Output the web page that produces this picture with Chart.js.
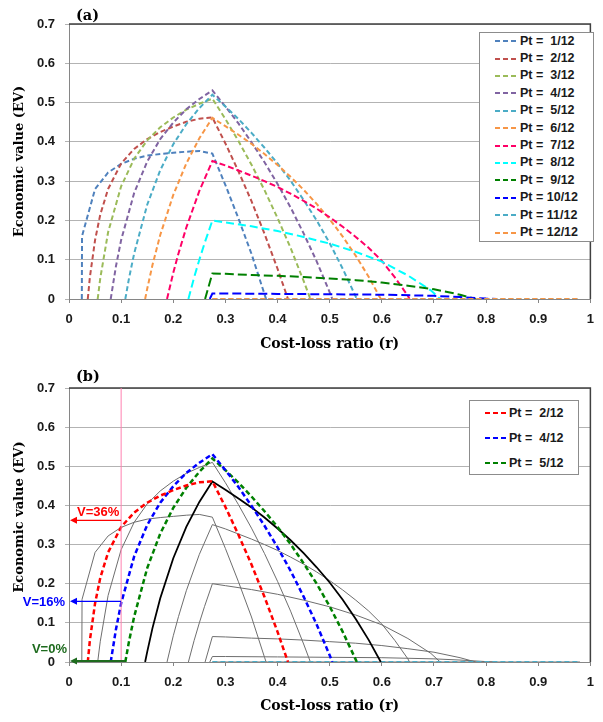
<!DOCTYPE html>
<html>
<head>
<meta charset="utf-8">
<script src="https://cdn.jsdelivr.net/npm/chart.js@4.4.0/dist/chart.umd.min.js"></script>
<style>
  body { margin: 0; background: #fff; }
  #wrap { position: relative; width: 603px; height: 722px; overflow: hidden; }
  .box { position: absolute; left: 0; width: 603px; }
  #boxA { top: 0; height: 360px; }
  #boxB { top: 360px; height: 362px; }
  .legend { position: absolute; background: #fff; border: 1px solid #8c8c8c;
    font: bold 12.5px "Liberation Sans", Arial, sans-serif; color: #1a1a1a; }
  .legend .row { position: absolute; left: 0; height: 14px; line-height: 14px; white-space: pre; }
  .legend .swatch { display: inline-block; height: 2px; vertical-align: middle; margin-right: 3px; }
</style>
</head>
<body>
<div id="wrap">
  <div class="box" id="boxA"><canvas id="chartA" width="603" height="360"></canvas></div>
  <div class="box" id="boxB"><canvas id="chartB" width="603" height="362"></canvas></div>
  <div class="legend" id="legendA" style="left:479px;top:32px;width:113px;height:208px;"></div>
  <div class="legend" id="legendB" style="left:469px;top:400px;width:108px;height:73px;"></div>
</div>
<script>
// threshold labels
const labels = ["Pt =  1/12", "Pt =  2/12", "Pt =  3/12", "Pt =  4/12", "Pt =  5/12", "Pt =  6/12",
  "Pt =  7/12", "Pt =  8/12", "Pt =  9/12", "Pt = 10/12", "Pt = 11/12", "Pt = 12/12"];

// cost-loss ratio (r) and economic value (EV)
const r1 = [0.0246, 0.025, 0.05, 0.075, 0.1, 0.125, 0.15, 0.175, 0.2, 0.225, 0.25, 0.275, 0.3, 0.325, 0.35, 0.375, 0.378];
const v1 = [0, 0.16, 0.28, 0.322, 0.344, 0.357, 0.365, 0.369, 0.372, 0.375, 0.377, 0.37, 0.29, 0.205, 0.115, 0.012, 0];
const r2 = [0.036, 0.04, 0.05, 0.06, 0.075, 0.1, 0.125, 0.15, 0.175, 0.2, 0.225, 0.25, 0.275, 0.3, 0.325, 0.35, 0.375, 0.4, 0.42];
const v2 = [0, 0.055, 0.15, 0.215, 0.28, 0.345, 0.382, 0.407, 0.425, 0.439, 0.451, 0.459, 0.462, 0.396, 0.325, 0.249, 0.166, 0.077, 0];
const r3 = [0.055, 0.06, 0.075, 0.1, 0.125, 0.15, 0.175, 0.2, 0.225, 0.25, 0.275, 0.3, 0.325, 0.35, 0.375, 0.4, 0.425, 0.45, 0.463];
const v3 = [0, 0.053, 0.17, 0.287, 0.357, 0.404, 0.437, 0.462, 0.482, 0.497, 0.51, 0.458, 0.402, 0.342, 0.277, 0.206, 0.13, 0.046, 0];
const r4 = [0.08, 0.09, 0.1, 0.125, 0.15, 0.175, 0.2, 0.225, 0.25, 0.275, 0.3, 0.325, 0.35, 0.375, 0.4, 0.425, 0.45, 0.475, 0.5, 0.505];
const v4 = [0, 0.083, 0.15, 0.27, 0.35, 0.407, 0.449, 0.483, 0.509, 0.531, 0.49, 0.447, 0.399, 0.348, 0.293, 0.233, 0.167, 0.096, 0.017, 0];
const r5 = [0.108, 0.115, 0.125, 0.15, 0.175, 0.2, 0.225, 0.25, 0.275, 0.3, 0.325, 0.35, 0.375, 0.4, 0.425, 0.45, 0.475, 0.5, 0.525, 0.55, 0.552];
const v5 = [0, 0.052, 0.116, 0.24, 0.328, 0.394, 0.445, 0.486, 0.52, 0.49, 0.458, 0.423, 0.385, 0.345, 0.301, 0.252, 0.2, 0.142, 0.077, 0.006, 0];
const r6 = [0.146, 0.15, 0.16, 0.175, 0.2, 0.225, 0.25, 0.275, 0.3, 0.325, 0.35, 0.375, 0.4, 0.425, 0.45, 0.475, 0.5, 0.525, 0.55, 0.575, 0.598];
const v6 = [0, 0.026, 0.086, 0.163, 0.265, 0.345, 0.409, 0.461, 0.44, 0.418, 0.395, 0.369, 0.341, 0.311, 0.278, 0.242, 0.203, 0.159, 0.11, 0.056, 0];
const r7 = [0.188, 0.2, 0.21, 0.225, 0.25, 0.275, 0.3, 0.325, 0.35, 0.375, 0.4, 0.425, 0.45, 0.475, 0.5, 0.525, 0.55, 0.575, 0.6, 0.625, 0.65, 0.653];
const v7 = [0, 0.067, 0.116, 0.182, 0.275, 0.351, 0.34, 0.327, 0.314, 0.3, 0.285, 0.268, 0.25, 0.23, 0.208, 0.184, 0.158, 0.13, 0.097, 0.055, 0.008, 0];
const r8 = [0.229, 0.24, 0.25, 0.26, 0.275, 0.3, 0.35, 0.4, 0.45, 0.5, 0.55, 0.6, 0.65, 0.694, 0.712];
const v8 = [0, 0.055, 0.1, 0.142, 0.2, 0.195, 0.185, 0.173, 0.158, 0.141, 0.12, 0.095, 0.06, 0.022, 0];
const r9 = [0.261, 0.275, 0.3, 0.35, 0.4, 0.45, 0.5, 0.55, 0.6, 0.65, 0.7, 0.75, 0.78];
const v9 = [0, 0.065, 0.064, 0.061, 0.059, 0.056, 0.052, 0.048, 0.042, 0.034, 0.025, 0.011, 0];
const r10 = [0.27, 0.275, 0.3, 0.4, 0.5, 0.6, 0.7, 0.75, 0.8, 0.82];
const v10 = [0, 0.014, 0.014, 0.013, 0.012, 0.011, 0.008, 0.005, 0.001, 0];
const r11 = [0.275, 0.98];
const v11 = [0, 0];
const r12 = [0.275, 0.98];
const v12 = [0, 0];

const curves = [[r1, v1], [r2, v2], [r3, v3], [r4, v4], [r5, v5], [r6, v6],
  [r7, v7], [r8, v8], [r9, v9], [r10, v10], [r11, v11], [r12, v12]];

// panel (b) markers: r = 0.1 and the values read at it
const markR = 0.1;
const markV = [0.362, 0.155, 0];
const markText = ["V=36%", "V=16%", "V=0%"];
const legendB = [1, 3, 4]; // Pt = 2/12, 4/12, 5/12

const colorsA = ["#4F81BD", "#C0504D", "#9BBB59", "#8064A2", "#4BACC6", "#F79646",
  "#FF0066", "#00FFFF", "#008000", "#0000FF", "#4BACC6", "#F79646"];
const dashA = [[5, 3], [5, 3], [5, 3], [5, 3], [5, 3], [5, 3],
  [6, 3], [8, 4], [9, 4], [9, 4], [5, 3], [5, 3]];

const tickFont = { family: '"Liberation Sans", Arial, sans-serif', size: 13, weight: 'bold' };
const titleFont = { family: '"DejaVu Serif", "Liberation Serif", serif', size: 14, weight: 'bold' };

const points = (i) => curves[i][0].map((x, k) => ({ x: x, y: curves[i][1][k] }));

const datasetsA = labels.map((lab, i) => ({
  label: lab,
  data: points(i),
  borderColor: colorsA[i],
  borderWidth: 2,
  borderDash: dashA[i],
  order: 12 - i,
}));

const datasetsB = labels.map((lab, i) => {
  let ds = { label: lab, data: points(i), borderColor: "#6E6E6E", borderWidth: 1, order: 3 };
  if (i === 1) ds = { ...ds, borderColor: "#FF0000", borderWidth: 2.5, borderDash: [5, 3], order: 0 };
  if (i === 3) ds = { ...ds, borderColor: "#0000FF", borderWidth: 2.5, borderDash: [5, 3], order: 0 };
  if (i === 4) ds = { ...ds, borderColor: "#008000", borderWidth: 2.5, borderDash: [5, 3], order: 0 };
  if (i === 5) ds = { ...ds, borderColor: "#000000", borderWidth: 1.8, order: 1 };
  if (i === 10) ds = { ...ds, borderColor: "#4BACC6", borderWidth: 2, borderDash: [5, 3], order: 2 };
  return ds;
});

const fmt = (v) => String(Math.round(v * 10) / 10);

// plot frame, panel letter and y-axis title
const framePlugin = {
  id: "frame",
  beforeDatasetsDraw(chart) {
    const { ctx, chartArea: a } = chart;
    ctx.save();
    ctx.strokeStyle = "#404040";
    ctx.lineWidth = 1.5;
    ctx.beginPath();
    ctx.moveTo(a.left, a.top);
    ctx.lineTo(a.right, a.top);
    ctx.lineTo(a.right, a.bottom);
    ctx.stroke();
    ctx.restore();
  },
  afterDraw(chart, args, opts) {
    const { ctx } = chart;
    ctx.save();
    ctx.font = 'bold 14.5px "DejaVu Serif", serif';
    ctx.fillStyle = "#000";
    ctx.textBaseline = "middle";
    ctx.fillText(opts.tag, 76, opts.tagY);

    ctx.font = 'bold 13px "DejaVu Serif", serif';
    ctx.textAlign = "center";
    ctx.translate(19.5, opts.yTitleY);
    ctx.rotate(-Math.PI / 2);
    ctx.fillText("Economic value (EV)", 0, 0);
    ctx.restore();
  },
};

function arrow(ctx, x1, x2, y, color, w) {
  ctx.strokeStyle = color;
  ctx.fillStyle = color;
  ctx.lineWidth = w;
  ctx.beginPath();
  ctx.moveTo(x1, y);
  ctx.lineTo(x2 + 4, y);
  ctx.stroke();
  ctx.beginPath();
  ctx.moveTo(x2, y);
  ctx.lineTo(x2 + 7, y - 3.5);
  ctx.lineTo(x2 + 7, y + 3.5);
  ctx.closePath();
  ctx.fill();
}

// r = 0.1 marker with the value arrows of panel (b)
const markPlugin = {
  id: "marks",
  afterDatasetsDraw(chart) {
    const { ctx, chartArea: a, scales } = chart;
    const xm = scales.x.getPixelForValue(markR);
    ctx.save();
    ctx.strokeStyle = "#FF80B0";
    ctx.lineWidth = 1;
    ctx.beginPath();
    ctx.moveTo(xm, a.top);
    ctx.lineTo(xm, a.bottom);
    ctx.stroke();

    const y0 = scales.y.getPixelForValue(markV[0]);
    const y1 = scales.y.getPixelForValue(markV[1]);
    const y2 = scales.y.getPixelForValue(markV[2]);
    arrow(ctx, xm, a.left + 1, y0, "#FF0000", 1.2);
    arrow(ctx, xm, a.left + 1, y1, "#0000FF", 1.2);
    arrow(ctx, scales.x.getPixelForValue(r5[0]), a.left + 1, y2 - 1, "#1E6B1E", 2.2);

    ctx.font = 'bold 13px "Liberation Sans", Arial, sans-serif';
    ctx.textBaseline = "middle";
    ctx.fillStyle = "#FF0000";
    ctx.textAlign = "left";
    ctx.fillText(markText[0], a.left + 8, y0 - 8);
    ctx.fillStyle = "#0000FF";
    ctx.textAlign = "right";
    ctx.fillText(markText[1], a.left - 4, y1 + 1);
    ctx.fillStyle = "#1E6B1E";
    ctx.fillText(markText[2], a.left - 2, y2 - 13);
    ctx.restore();
  },
};

function makeOptions(tag, tagY, yTitleY, padTop, xHeight) {
  return {
    responsive: false,
    animation: false,
    devicePixelRatio: 1,
    layout: { padding: { left: 0, right: 4, top: padTop, bottom: 0 } },
    elements: { point: { radius: 0 }, line: { tension: 0, fill: false } },
    plugins: {
      legend: { display: false },
      tooltip: { enabled: false },
      frame: { tag: tag, tagY: tagY, yTitleY: yTitleY },
    },
    scales: {
      x: {
        type: "linear",
        min: 0,
        max: 1,
        ticks: { stepSize: 0.1, font: tickFont, color: "#1a1a1a", padding: 9, maxRotation: 0, autoSkip: false, callback: fmt },
        grid: { display: true, drawOnChartArea: false, drawTicks: true, tickLength: 4, color: "#868686" },
        border: { color: "#868686", width: 1 },
        title: { display: true, text: "Cost-loss ratio (r)", font: titleFont, color: "#000", padding: { top: 0, bottom: 7.5 } },
        afterFit: (s) => { s.height = xHeight; },
      },
      y: {
        min: 0,
        max: 0.7,
        ticks: { stepSize: 0.1, font: tickFont, color: "#1a1a1a", padding: 10, callback: fmt },
        grid: { color: "#B3B3B3", tickLength: 4 },
        border: { color: "#868686", width: 1 },
        title: { display: false },
        afterFit: (s) => { s.width = 69; },
      },
    },
  };
}

function buildLegend(el, items, rowTop, rowStep, padLeft, swatchW) {
  el.innerHTML = "";
  items.forEach((ds, k) => {
    const row = document.createElement("div");
    row.className = "row";
    row.style.top = (rowTop + k * rowStep) + "px";
    row.style.left = padLeft + "px";
    const sw = document.createElement("span");
    sw.className = "swatch";
    sw.style.width = swatchW + "px";
    sw.style.background = "repeating-linear-gradient(90deg, " + ds.borderColor + " 0 5px, transparent 5px 8px)";
    row.appendChild(sw);
    row.appendChild(document.createTextNode(ds.label));
    el.appendChild(row);
  });
}

window.addEventListener("DOMContentLoaded", () => {
  const chartA = new Chart(document.getElementById("chartA"), {
    type: "line",
    data: { datasets: datasetsA },
    options: makeOptions("(a)", 16, 161.5, 24, 61),
    plugins: [framePlugin],
  });
  const chartB = new Chart(document.getElementById("chartB"), {
    type: "line",
    data: { datasets: datasetsB },
    options: makeOptions("(b)", 17.5, 157, 28, 60),
    plugins: [framePlugin, markPlugin],
  });

  buildLegend(document.getElementById("legendA"), chartA.data.datasets, 0.5, 17.4, 15, 22);
  buildLegend(document.getElementById("legendB"), legendB.map((i) => chartB.data.datasets[i]), 4.5, 25, 15, 21);
});
</script>
</body>
</html>
